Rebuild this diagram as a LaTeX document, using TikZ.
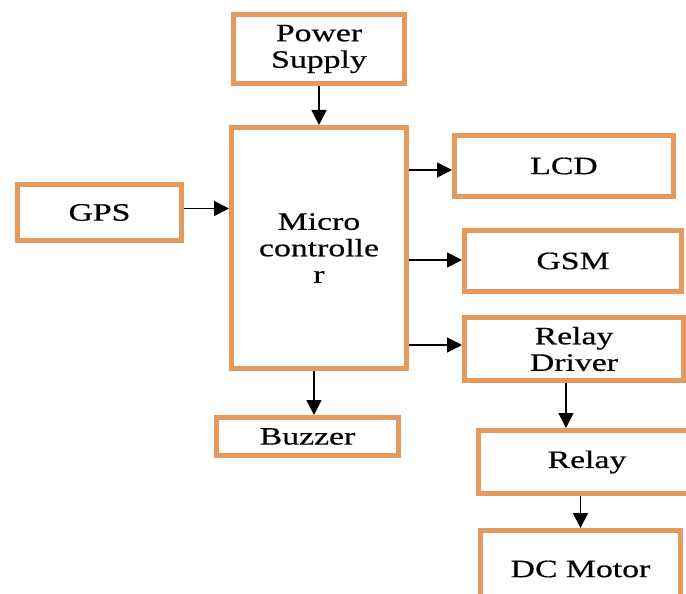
\documentclass[tikz,border=0pt]{standalone}
\usepackage{fontspec}
\setmainfont[FakeStretch=1.35,FakeBold=0.5]{Liberation Serif}
\usetikzlibrary{arrows.meta}
\definecolor{boxorange}{RGB}{229,153,92}
\begin{document}
\begin{tikzpicture}[x=1pt,y=-1pt,
  blk/.style={draw=boxorange,line width=5pt,rectangle,inner sep=0pt,align=center,
    font=\fontsize{25}{26.5}\selectfont},
  arr/.style={draw=black,line width=1.8pt,-{Triangle[length=15pt,width=15pt]}}]
\useasboundingbox[fill=white] (0,0) rectangle (686,594);
\node[blk,minimum width=171pt,minimum height=69pt] (ps) at (319,49) {Power\\Supply};
\node[blk,minimum width=175pt,minimum height=241pt] (mc) at (319,248) {Micro\\controlle\\r};
\node[blk,minimum width=164pt,minimum height=56pt] (gps) at (99.5,212.5) {GPS};
\node[blk,minimum width=219pt,minimum height=61pt] (lcd) at (564,166) {LCD};
\node[blk,minimum width=217pt,minimum height=61pt] (gsm) at (573,261) {GSM};
\node[blk,minimum width=219pt,minimum height=63pt] (rd) at (574,349) {Relay\\Driver};
\node[blk,minimum width=182pt,minimum height=38pt] (bz) at (307.5,436.5) {Buzzer};
\node[blk,minimum width=218pt,minimum height=63pt] (rl) at (587,462) {Relay};
\node[blk,minimum width=200pt,minimum height=77pt] (dc) at (580.5,569) {DC Motor};
\draw[arr] (ps.south) -- (mc.north);
\draw[arr] ([yshift=4pt]gps.east) -- ([yshift=4pt]gps.east -| mc.west);
\draw[arr] ([yshift=-4pt]lcd.west -| mc.east) -- ([yshift=-4pt]lcd.west);
\draw[arr] ([yshift=1pt]gsm.west -| mc.east) -- ([yshift=1pt]gsm.west);
\draw[arr] ([yshift=4pt]rd.west -| mc.east) -- ([yshift=4pt]rd.west);
\draw[arr] ([xshift=-5pt]mc.south) -- ([xshift=-5pt]mc.south |- bz.north);
\draw[arr] ([xshift=-8pt]rd.south) -- ([xshift=-8pt]rd.south |- rl.north);
\draw[arr] (dc.north |- rl.south) -- (dc.north);
\end{tikzpicture}
\end{document}
